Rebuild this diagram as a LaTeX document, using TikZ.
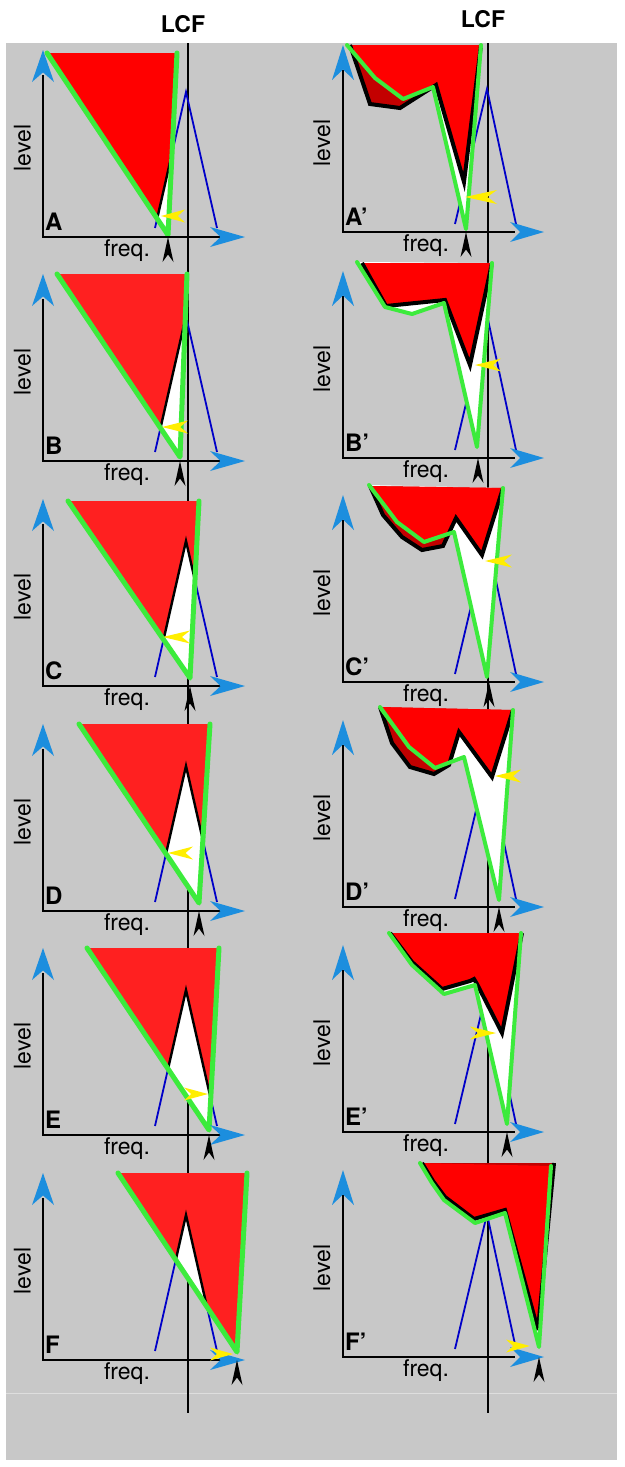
\documentclass[tikz,border=0pt]{standalone}
\usepackage{fontspec}
\setmainfont{TeX Gyre Heros}
\definecolor{bg}{RGB}{200,200,200}
\definecolor{fline}{RGB}{222,222,222}
\definecolor{redA}{RGB}{255,0,0}
\definecolor{redB}{RGB}{255,32,32}
\definecolor{dred}{RGB}{195,0,0}
\definecolor{grn}{RGB}{60,235,60}
\definecolor{arrblue}{RGB}{28,142,222}
\definecolor{tunblue}{RGB}{0,0,200}
\definecolor{yel}{RGB}{255,238,0}
\newcommand\myhead[6]{\fill[#6,shift={(#1,#2)},rotate=#3] (0,0) -- (-#4,#5) -- (-0.7*#4,0) -- (-#4,-#5) -- cycle;}
% left panel: #1 axis Y, #2 TLx, #3 topY, #4 TRx, #5 Bx, #6 By, #7 label, #8 red colour
\newcommand\LPanel[8]{%
  \draw[tuning] (155,#1-9) -- (186,#1-145) -- (217,#1-9);
  \fill[#8] (#2,#3) -- (#4,#3) -- (#5,#6) -- cycle;
  \begin{scope}
    \clip (#2,#3) -- (#4,#3) -- (#5,#6) -- cycle;
    \fill[white] (150.7,#1+10) -- (186,#1-145) -- (221.3,#1+10) -- cycle;
    \draw[tunblack] (150.7,#1+10) -- (186,#1-145) -- (221.3,#1+10);
  \end{scope}
  \draw[grnL] (#2,#3) -- (#5,#6) -- (#4,#3);
  \draw[axisL] (43,#1-162) -- (43,#1) -- (222,#1);
  \myhead{43}{#1-187}{90}{32}{11}{arrblue}
  \myhead{245}{#1}{0}{35}{10}{arrblue}
  \myhead{#5}{#1}{90}{25}{5.5}{black}
  \node[plabel,anchor=base west] (lab#1) at (45,#1-7) {#7};
  \node[txt,rotate=90] (lev#1) at (22.5,#1-89) {level};
  \node[txt,anchor=base] (frq#1) at (127,#1+19) {freq.};
}
% right panel: #1 axis Y, #2 black outline points, #3 green outline points
\newcommand\RPanel[3]{%
  \draw[tuning] (455,#1-8) -- (487,#1-143) -- (516,#1-8);
  \fill[white] #3 -- cycle;
  \fill[dred] #2 -- cycle;
  \begin{scope}
    \clip #3 -- cycle;
    \fill[redA] #2 -- cycle;
  \end{scope}
  \draw[blkR] #2;
  \draw[grnR] #3;
}
% right axes: #1 axis Y, #2 label, #3 black arrow x
\newcommand\RAxes[3]{%
  \draw[axisR] (343,#1-162) -- (343,#1) -- (515,#1);
  \myhead{343}{#1-187}{90}{35}{11}{arrblue}
  \myhead{544}{#1}{0}{34}{10}{arrblue}
  \myhead{#3}{#1}{90}{25}{5.5}{black}
  \node[plabel,anchor=base west] (rlab#1) at (345,#1-7) {#2};
  \node[txt,rotate=90] (rlev#1) at (322,#1-89) {level};
  \node[txt,anchor=base] (rfrq#1) at (426,#1+19) {freq.};
}
\begin{document}
\begin{tikzpicture}[x=1pt,y=-1pt,
  tuning/.style={draw=tunblue,line width=1.8pt},
  tunblack/.style={draw=black,line width=2.4pt,line join=miter},
  grnL/.style={draw=grn,line width=5pt,line join=round,line cap=round},
  grnR/.style={draw=grn,line width=4pt,line join=round,line cap=round},
  blkR/.style={draw=black,line width=4pt,line join=miter,miter limit=5},
  axisL/.style={draw=black,line width=2.6pt},
  axisR/.style={draw=black,line width=2pt},
  lcfL/.style={draw=black,line width=2.5pt},
  lcfR/.style={draw=black,line width=2pt},
  txt/.style={font=\fontsize{23}{27}\selectfont,inner sep=0pt},
  plabel/.style={font=\fontsize{24}{28}\selectfont\bfseries,inner sep=0pt},
  lcftxt/.style={font=\fontsize{23}{27}\selectfont\bfseries,inner sep=0pt,anchor=base}]
\useasboundingbox (0,0) rectangle (624,1467);
\fill[white] (0,0) rectangle (624,1467);
\fill[bg] (6,43) rectangle (617,1460);
\draw[fline,line width=1pt] (6,1393) -- (617,1393);
\draw[lcfL] (188,43) -- (188,1413);
\draw[lcfR] (488,43) -- (488,1413);
\node[lcftxt] (lcfl) at (183,32) {LCF};
\node[lcftxt] (lcfr) at (483,27) {LCF};
% left column
\LPanel{237}{47}{53}{177}{168}{235}{A}{redA}
\LPanel{461}{57}{274}{187}{180}{457}{B}{redB}
\LPanel{686}{68}{501}{199}{190}{678}{C}{redB}
\LPanel{911}{79}{724}{210}{199}{903}{D}{redB}
\LPanel{1135}{87}{948}{219}{209}{1130}{E}{redB}
\LPanel{1360}{118}{1173}{247}{237}{1352}{F}{redB}
\myhead{161}{216}{180}{24}{6.5}{yel}
\myhead{162}{427}{180}{26}{6.5}{yel}
\myhead{163}{637}{180}{27}{6.5}{yel}
\myhead{168}{853}{180}{25}{6.5}{yel}
\myhead{208}{1094}{0}{24}{6.5}{yel}
\myhead{233}{1354}{0}{23}{6.5}{yel}
% right column
\RPanel{232}{(350,45) -- (370,104) -- (400,108) -- (436,85) -- (464,182) -- (481,45)}{(347,45) -- (375,78) -- (403,99) -- (433,87) -- (466,229) -- (481,45)}
\RAxes{232}{A’}{466}
\RPanel{458}{(362,263) -- (386,306) -- (445,300) -- (470,365) -- (492,263)}{(357,262) -- (385,307) -- (412,314) -- (444,303) -- (477,447) -- (492,263)}
\RAxes{458}{B’}{478}
\RPanel{682}{(370,486) -- (383,515) -- (402,537) -- (422,550) -- (443,546) -- (456,518) -- (482,555) -- (503,488)}{(369,485) -- (397,522) -- (424,542) -- (454,532) -- (487,677) -- (503,488)}
\RAxes{682}{C’}{489}
\RPanel{907}{(380,707) -- (392,743) -- (410,767) -- (434,774) -- (449,765) -- (459,732) -- (492,777) -- (513,710)}{(380,707) -- (409,747) -- (435,768) -- (464,757) -- (499,900) -- (513,710)}
\RAxes{907}{D’}{499}
\RPanel{1132}{(390,933) -- (412,962) -- (442,989) -- (470,981) -- (474,979) -- (477,984) -- (502,1033) -- (522,933)}{(389,933) -- (412,965) -- (444,994) -- (475,985) -- (507,1124) -- (521,933)}
\RAxes{1132}{E’}{507}
\RPanel{1357}{(422,1163) -- (433,1181) -- (445,1197) -- (474,1219) -- (505,1210) -- (538,1330) -- (554,1163)}{(420,1163) -- (432,1183) -- (444,1200) -- (475,1223) -- (505,1213) -- (539,1347) -- (551,1166)}
\RAxes{1357}{F’}{539}
\myhead{465}{197}{180}{32}{7}{yel}
\myhead{475}{365}{180}{26}{6.5}{yel}
\myhead{485}{561}{180}{27}{6.5}{yel}
\myhead{495}{776}{180}{26}{6.5}{yel}
\myhead{496}{1033}{0}{26}{6.5}{yel}
\myhead{530}{1346}{0}{24}{6.5}{yel}
\end{tikzpicture}
\end{document}
